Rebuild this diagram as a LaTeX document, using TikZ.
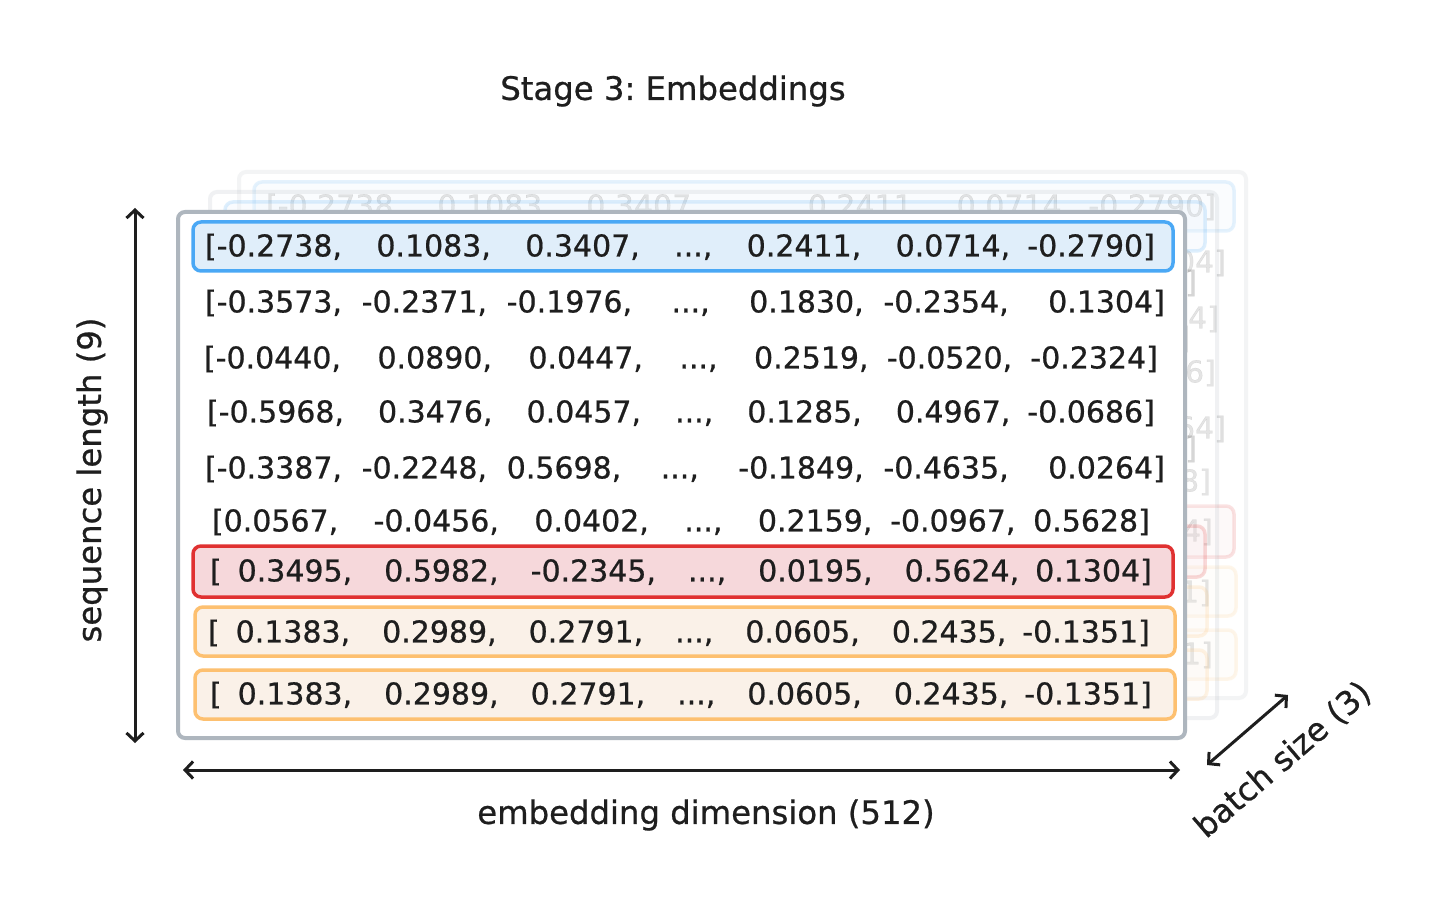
\documentclass[tikz,border=0pt]{standalone}
\usepackage{fontspec}
\setmainfont{DejaVu Sans}
\newfontfamily\medfont{DejaVu Sans}[FakeBold=0.7]
\usetikzlibrary{arrows.meta}
\frenchspacing
\definecolor{txt}{HTML}{1E1E1E}
\definecolor{panelborder}{HTML}{AEB6BE}
\definecolor{blueB}{HTML}{4AA8F5}
\definecolor{blueF}{HTML}{E0EEFA}
\definecolor{redB}{HTML}{E03131}
\definecolor{redF}{HTML}{F6D8DB}
\definecolor{orB}{HTML}{FDC070}
\definecolor{orF}{HTML}{FAF1E8}
\tikzset{
  panelbox/.style={draw=panelborder,fill=white,line width=4pt,rounded corners=7pt},
  hlbox/.style={line width=3.5pt,rounded corners=8pt},
  rowtxt/.style={text=txt,inner sep=0pt,font=\medfont\fontsize{30}{36}\selectfont},
  lbl/.style={text=txt,inner sep=0pt,font=\medfont\fontsize{32.3}{38}\selectfont},
  dimarrow/.style={draw=txt,line width=3pt,{Straight Barb[length=8pt,width=17pt]}-{Straight Barb[length=8pt,width=17pt]}}
}
\newcommand\rowbox[2]{\makebox[#1pt][s]{#2}}
\newcommand\drawpanel[1]{%
  \draw[panelbox] (178,212) rectangle (1185,738);
  \draw[hlbox,draw=blueB,fill=blueF] (193,222) rectangle (1173,271);
  \draw[hlbox,draw=redB,fill=redF] (193,546) rectangle (1173,597);
  \draw[hlbox,draw=orB,fill=orF] (195,607) rectangle (1175,656);
  \draw[hlbox,draw=orB,fill=orF] (195,670) rectangle (1175,719);
  \node[rowtxt] (#1r1) at (680,247) {\rowbox{950}{[-0.2738, ~0.1083, ~0.3407, ~..., ~0.2411, ~0.0714, -0.2790]}};
  \node[rowtxt] (#1r2) at (685,303) {\rowbox{960}{[-0.3573, -0.2371, -0.1976, ~..., ~0.1830, -0.2354, ~0.1304]}};
  \node[rowtxt] (#1r3) at (681,359) {\rowbox{954}{[-0.0440, ~0.0890, ~0.0447, ~..., ~0.2519, -0.0520, -0.2324]}};
  \node[rowtxt] (#1r4) at (681,413) {\rowbox{948}{[-0.5968, ~0.3476, ~0.0457, ~..., ~0.1285, ~0.4967, -0.0686]}};
  \node[rowtxt] (#1r5) at (685,469) {\rowbox{960}{[-0.3387, -0.2248, 0.5698, ~..., ~-0.1849, -0.4635, ~0.0264]}};
  \node[rowtxt] (#1r6) at (681,522) {\rowbox{938}{[0.0567, ~-0.0456, ~0.0402, ~..., ~0.2159, -0.0967, 0.5628]}};
  \node[rowtxt] (#1r7) at (681,572) {\rowbox{942}{[ 0.3495, ~0.5982, ~-0.2345, ~..., ~0.0195, ~0.5624, 0.1304]}};
  \node[rowtxt] (#1r8) at (679,633) {\rowbox{942}{[ 0.1383, ~0.2989, ~0.2791, ~..., ~0.0605, ~0.2435, -0.1351]}};
  \node[rowtxt] (#1r9) at (681,695) {\rowbox{942}{[ 0.1383, ~0.2989, ~0.2791, ~..., ~0.0605, ~0.2435, -0.1351]}};
}
\begin{document}
\begin{tikzpicture}[x=1pt,y=-1pt]
\useasboundingbox[fill=white] (0,0) rectangle (1454,917);
% back layers
\begin{scope}[shift={(61,-40)},opacity=0.14]
  \drawpanel{c}
\end{scope}
\begin{scope}[shift={(32,-20)},opacity=0.18]
  \drawpanel{b}
\end{scope}
% front layer
\drawpanel{a}
% title
\node[lbl] (title) at (673,91) {Stage 3: Embeddings};
% dimension arrows
\coordinate (vtop) at (135,208);
\coordinate (vbot) at (135,743);
\draw[dimarrow] (vtop) -- (vbot);
\node[lbl,rotate=90] (seqlbl) at (92,480) {sequence length (9)};
\coordinate (hl) at (183,770);
\coordinate (hr) at (1180,770);
\draw[dimarrow] (hl) -- (hr);
\node[lbl] (emblbl) at (706,815) {embedding dimension (512)};
\coordinate (dlo) at (1207,765);
\coordinate (dhi) at (1288,695);
\draw[dimarrow] (dlo) -- (dhi);
\node[lbl,rotate=40.6] (batchlbl) at (1283,760) {batch size (3)};
\end{tikzpicture}
\end{document}
